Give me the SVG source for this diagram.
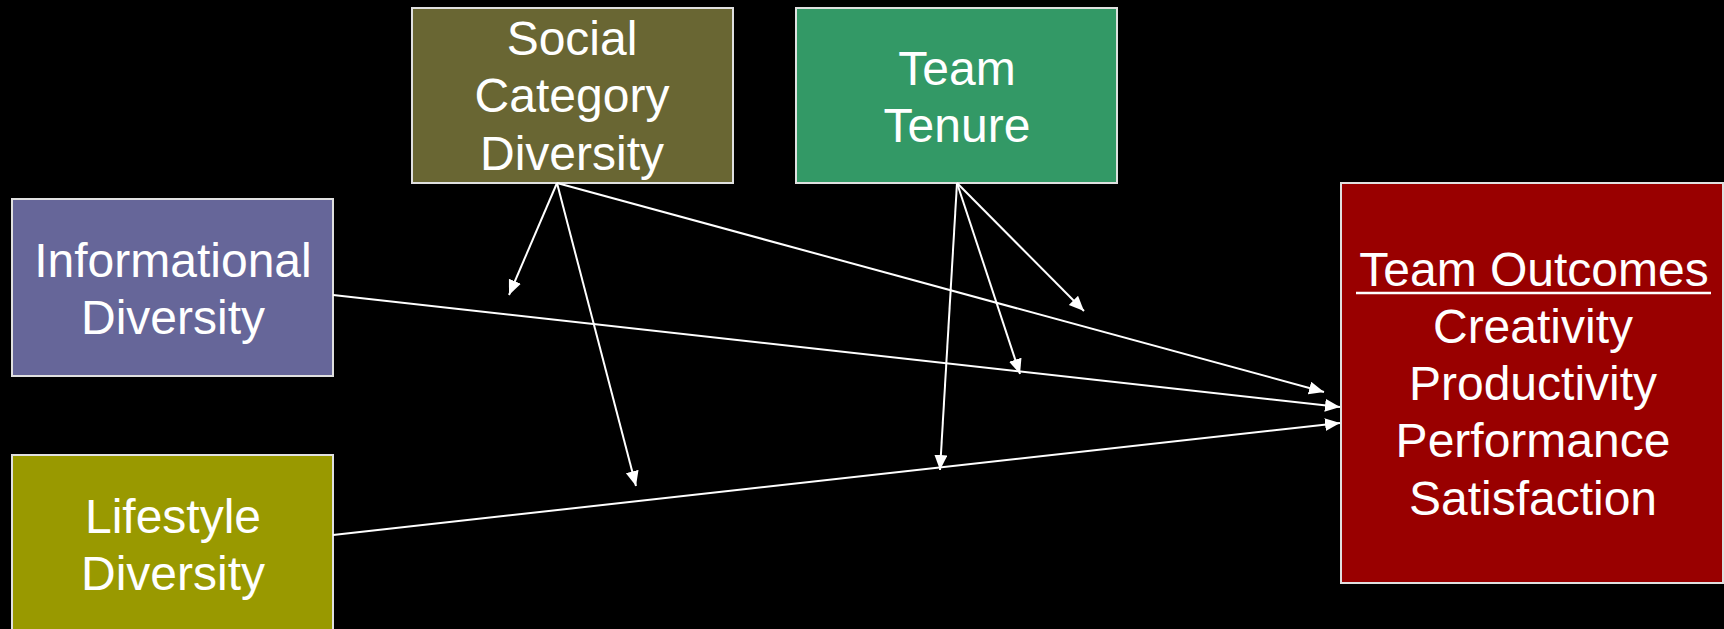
<svg xmlns="http://www.w3.org/2000/svg" width="1724" height="629" viewBox="0 0 1724 629">
<style>
.box{stroke:#e0e0e0;stroke-width:2}
.t{font-family:"Liberation Sans",Arial,sans-serif;font-size:48px;fill:#ffffff;text-anchor:middle}
.c{stroke:#ffffff;stroke-width:2;fill:none;marker-end:url(#ah)}
</style>
<defs>
<marker id="ah" markerUnits="userSpaceOnUse" markerWidth="16" markerHeight="14" refX="15" refY="6.5" orient="auto">
<path d="M0,0 L15,6.5 L0,13 z" fill="#ffffff"/>
</marker>
</defs>
<rect x="0" y="0" width="1724" height="629" fill="#000000"/>
<g id="social-category">
<rect class="box" x="412" y="8" width="321" height="175" fill="#696633"/>
<text class="t" x="572" y="55">Social</text>
<text class="t" x="572" y="112">Category</text>
<text class="t" x="572" y="170">Diversity</text>
</g>
<g id="team-tenure">
<rect class="box" x="796" y="8" width="321" height="175" fill="#339966"/>
<text class="t" x="957" y="85">Team</text>
<text class="t" x="957" y="142">Tenure</text>
</g>
<g id="informational">
<rect class="box" x="12" y="199" width="321" height="177" fill="#666699"/>
<text class="t" x="173" y="277">Informational</text>
<text class="t" x="173" y="334">Diversity</text>
</g>
<g id="lifestyle">
<rect class="box" x="12" y="455" width="321" height="190" fill="#999900"/>
<text class="t" x="173" y="533">Lifestyle</text>
<text class="t" x="173" y="590">Diversity</text>
</g>
<g id="team-outcomes">
<rect class="box" x="1341" y="183" width="382" height="400" fill="#990000"/>
<text class="t" x="1534" y="286">Team Outcomes</text>
<line x1="1356" y1="293" x2="1711" y2="293" stroke="#ffffff" stroke-width="2.5"/>
<text class="t" x="1533" y="343">Creativity</text>
<text class="t" x="1533" y="400">Productivity</text>
<text class="t" x="1533" y="457">Performance</text>
<text class="t" x="1533" y="515">Satisfaction</text>
</g>
<g id="connectors">
<line class="c" x1="557" y1="183" x2="509" y2="295"/>
<line class="c" x1="557" y1="183" x2="636" y2="486"/>
<line class="c" x1="557" y1="183" x2="1324" y2="392"/>
<line class="c" x1="957" y1="183" x2="1084" y2="311"/>
<line class="c" x1="957" y1="183" x2="1020" y2="374"/>
<line class="c" x1="957" y1="183" x2="940" y2="470"/>
<line class="c" x1="333" y1="295" x2="1340" y2="407"/>
<line class="c" x1="333" y1="535" x2="1340" y2="423"/>
</g>
</svg>
